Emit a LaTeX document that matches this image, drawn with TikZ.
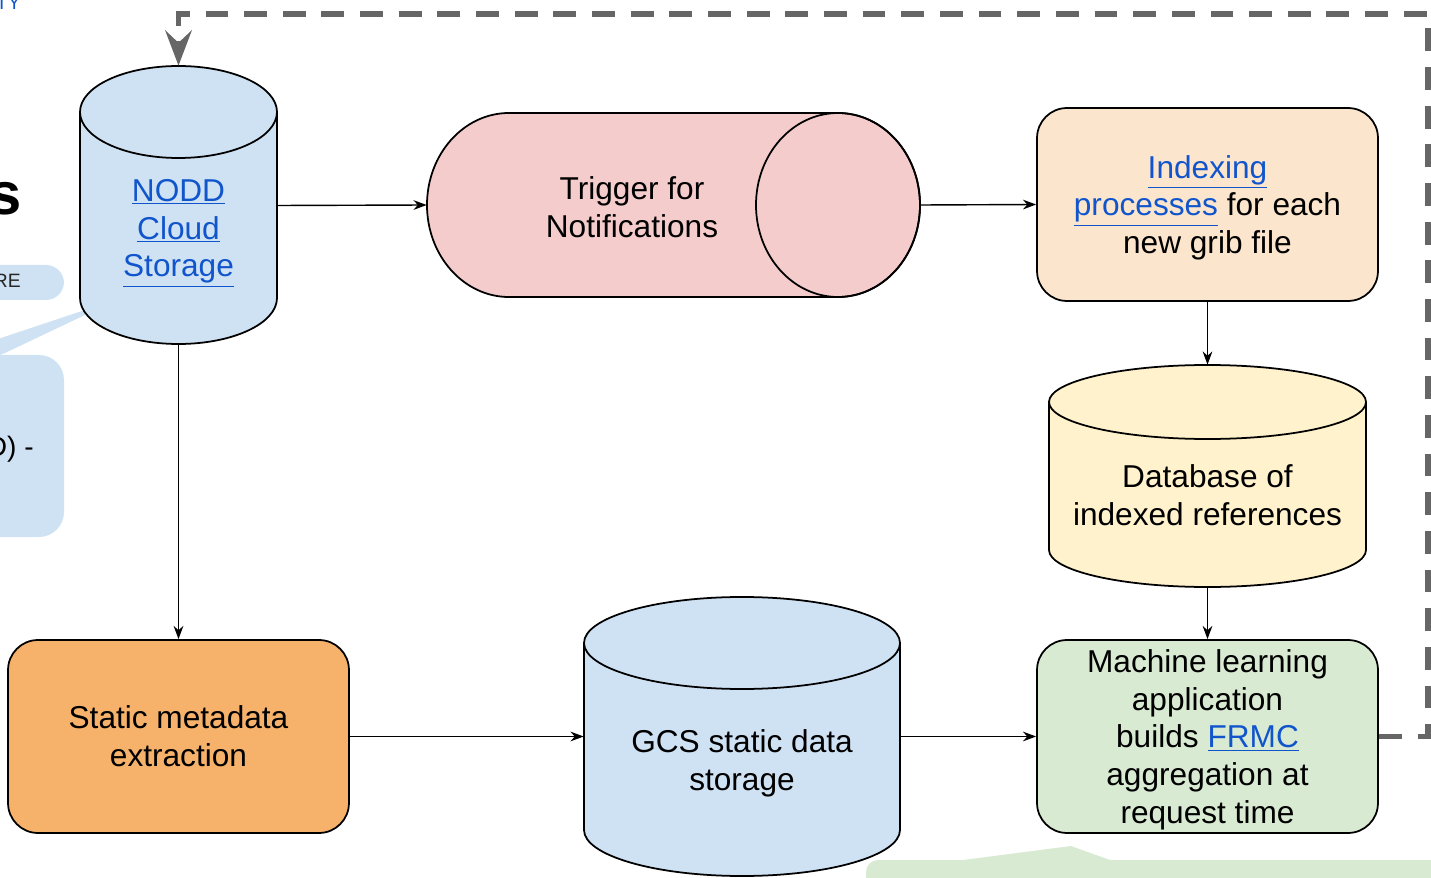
\documentclass[tikz,border=0pt]{standalone}
\usepackage{fontspec}
\setmainfont{Liberation Sans}
\usetikzlibrary{arrows.meta}

\definecolor{linkblue}{HTML}{1155CC}
\definecolor{cloudblue}{HTML}{CFE2F3}
\definecolor{triggerred}{HTML}{F4CCCC}
\definecolor{indexorange}{HTML}{FCE5CD}
\definecolor{dbyellow}{HTML}{FFF2CC}
\definecolor{mlgreen}{HTML}{D9EAD3}
\definecolor{metaorange}{HTML}{F6B26B}
\definecolor{loopgray}{HTML}{666666}

\newcommand{\flowfont}{\fontsize{18}{21.6}\selectfont}
\newcommand{\link}[1]{\textcolor{linkblue}{\underline{#1}}}

\tikzset{
  flow/.style={-{Stealth[length=7.5pt,width=5.5pt]}, line width=0.8pt},
  loopback/.style={-{Stealth[length=20pt,width=15pt,inset=7pt]}, loopgray, line width=3.2pt, dash pattern=on 13pt off 9pt},
  outline/.style={draw=black, line width=1pt},
  procbox/.style={outline, rounded corners=0.6cm, minimum width=6.82cm, minimum height=3.86cm, align=center, font=\flowfont, text depth=0pt},
  holder/.style={inner sep=0pt},
  txt/.style={align=center, font=\flowfont}
}

\begin{document}
\begin{tikzpicture}[x=0.02cm, y=0.02cm]
\useasboundingbox (0,0) rectangle (1431,877);
\clip (0,0) rectangle (1431,877);

% bits of the slide behind the diagram
\node[anchor=base east, inner sep=0pt, text=linkblue, font=\fontsize{11}{13}\selectfont] (slidetag) at (21,867) {TY};
\node[anchor=base east, inner sep=0pt, font=\bfseries\fontsize{34}{40}\selectfont] (slidetitle) at (22,662) {s};
\fill[cloudblue, rounded corners=0.36cm] (-40,612) rectangle (64,577);
\node[anchor=base east, inner sep=0pt, text=black!85, font=\fontsize{11}{13}\selectfont] (slidepill) at (21,589) {RE};
\fill[cloudblue] (85,567) -- (-5,537) -- (-5,520) -- (5,524) -- (85,562) -- cycle;
\fill[cloudblue, rounded corners=0.5cm] (-40,522) rectangle (64,340);
\node[anchor=base east, inner sep=0pt, font=\fontsize{16}{19}\selectfont] (slidenote) at (34,420) {(NODD) -};
\fill[mlgreen] (963,17) -- (1071,31) -- (1110,17) -- cycle;
\fill[mlgreen, rounded corners=0.24cm] (866,17) rectangle (1460,-40);

% NODD cloud storage cylinder
\filldraw[outline, fill=cloudblue] (80,765) -- (80,579) arc[start angle=180, end angle=360, x radius=98.5, y radius=46]
  -- (277,765) arc[start angle=0, end angle=180, x radius=98.5, y radius=46] -- cycle;
\draw[outline] (80,765) arc[start angle=180, end angle=360, x radius=98.5, y radius=46];
\node[holder, minimum width=3.94cm, minimum height=5.58cm] (nodd) at (178.5,671.5) {};
\node[txt] (nodd-txt) at (178.5,644) {\link{NODD}\\\link{Cloud}\\\link{Storage}};

% trigger, lying cylinder
\filldraw[outline, fill=triggerred] (509,764) -- (838,764) arc[start angle=90, end angle=-90, x radius=82, y radius=92]
  -- (509,580) arc[start angle=270, end angle=90, x radius=82, y radius=92] -- cycle;
\draw[outline] (838,672) ellipse[x radius=82, y radius=92];
\node[holder, minimum width=9.86cm, minimum height=3.68cm] (trig) at (673.5,672) {};
\node[txt] (trig-txt) at (632,670) {Trigger for\\Notifications};

% database cylinder
\filldraw[outline, fill=dbyellow] (1049,475) -- (1049,327) arc[start angle=180, end angle=360, x radius=158.5, y radius=37]
  -- (1366,475) arc[start angle=0, end angle=180, x radius=158.5, y radius=37] -- cycle;
\draw[outline] (1049,475) arc[start angle=180, end angle=360, x radius=158.5, y radius=37];
\node[holder, minimum width=6.34cm, minimum height=4.44cm] (db) at (1207.5,401) {};
\node[txt] (db-txt) at (1207.5,382) {Database of\\indexed references};

% GCS cylinder
\filldraw[outline, fill=cloudblue] (584,234) -- (584,47) arc[start angle=180, end angle=360, x radius=158, y radius=46]
  -- (900,234) arc[start angle=0, end angle=180, x radius=158, y radius=46] -- cycle;
\draw[outline] (584,234) arc[start angle=180, end angle=360, x radius=158, y radius=46];
\node[holder, minimum width=6.32cm, minimum height=5.58cm] (gcs) at (742,140.5) {};
\node[txt] (gcs-txt) at (742,114) {GCS static data\\storage};

% process boxes
\node[procbox, fill=indexorange] (idx) at (1207.5,672.5) {\link{Indexing}\\\link{processes} for each\\new grib file};
\node[procbox, fill=mlgreen] (ml) at (1207.5,140.5) {Machine learning\\application\\builds \link{FRMC}\\aggregation at\\request time};
\node[procbox, fill=metaorange] (meta) at (178.5,140.5) {Static metadata\\extraction};

% connectors
\draw[flow] (nodd.east) -- (trig.west);
\draw[flow] (trig.east) -- (idx.west);
\draw[flow] (idx.south) -- (db.north);
\draw[flow] (db.south) -- (ml.north);
\draw[flow] (nodd.south) -- (meta.north);
\draw[flow] (meta.east) -- (gcs.west);
\draw[flow] (gcs.east) -- (ml.west);
\draw[loopback] (ml.east) -| (1428,863) -| (nodd.north);
\end{tikzpicture}
\end{document}
